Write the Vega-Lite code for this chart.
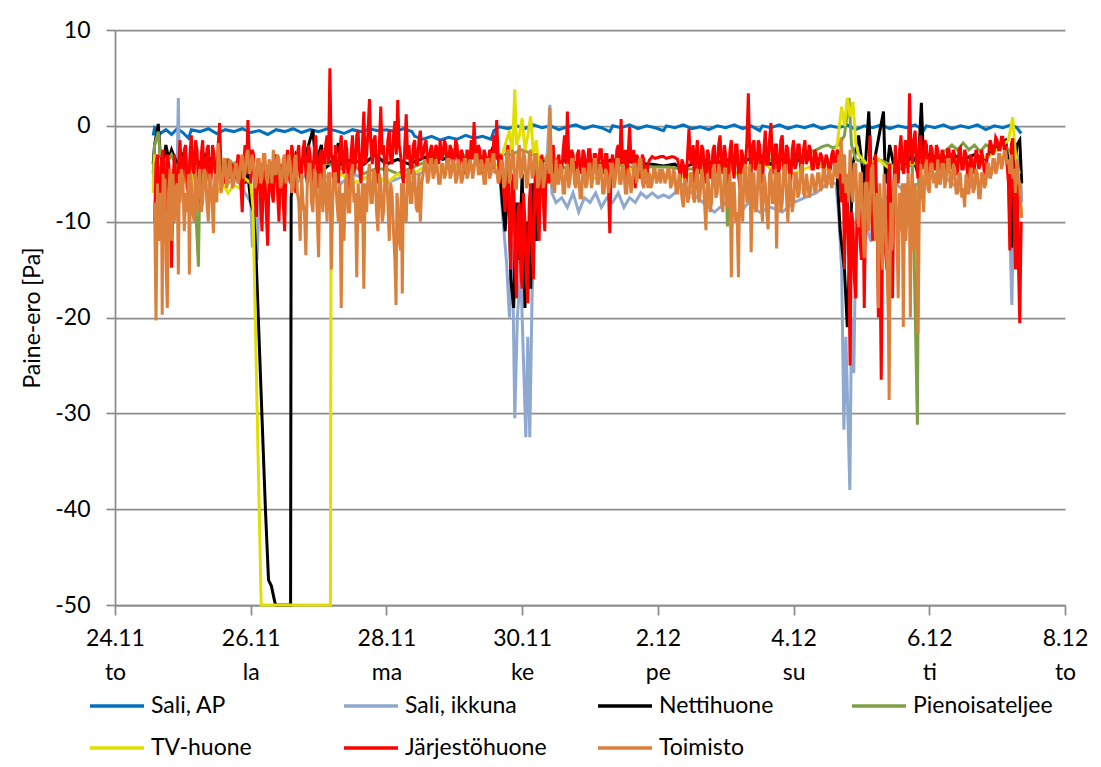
{
"$schema":"https://vega.github.io/schema/vega-lite/v6.json",
"width":950,"height":575,
"autosize":{"type":"none"},
"padding":{"left":115,"top":30,"right":36,"bottom":162},
"background":"white",
"config":{"view":{"stroke":null},"font":"Lato"},
"encoding":{
 "x":{"field":"h","type":"quantitative","scale":{"domain":[0,336],"nice":false,"zero":false},
  "axis":{"values":[0,48,96,144,192,240,288,336],"title":null,"grid":false,"domainColor":"#8c8c8c","domainWidth":1.75,"tickColor":"#8c8c8c","tickWidth":1.75,"tickSize":10,"labelFont":"Lato","labelFontSize":23,"labelColor":"#000000","labelPadding":12,"labelLineHeight":34,"labelOverlap":false,"labelFlush":false,
   "labelExpr":"[['24.11','26.11','28.11','30.11','2.12','4.12','6.12','8.12'][round(datum.value/48)], ['to','la','ma','ke','pe','su','ti','to'][round(datum.value/48)]]"}},
 "y":{"field":"v","type":"quantitative","scale":{"domain":[-50,10],"nice":false,"zero":false},
  "axis":{"values":[-50,-40,-30,-20,-10,0,10],"title":"Paine-ero [Pa]","titleFont":"Lato","titleFontSize":23,"titleFontWeight":"normal","titleColor":"#000000","titlePadding":10,"grid":true,"gridColor":"#8c8c8c","gridWidth":1.75,"domainColor":"#8c8c8c","domainWidth":1.75,"tickColor":"#8c8c8c","tickWidth":1.75,"tickSize":9,"labelFont":"Lato","labelFontSize":23,"labelColor":"#000000","labelPadding":16,
   "labelExpr":"replace(datum.label, '\u2212', '-')"}}
},
"layer":[
{"data":{"values":[
{"h":13.5,"v":-1.0},{"h":14,"v":-0.2},{"h":16,"v":-0.8},{"h":18,"v":-0.4},{"h":20,"v":-0.9},{"h":22,"v":-0.3},{"h":24,"v":-0.7},{"h":26,"v":-1.3},{"h":27,"v":-0.4},{"h":30,"v":-0.6},{"h":33,"v":-0.3},{"h":36,"v":-0.8},{"h":39,"v":-0.4},{"h":42,"v":-0.6},{"h":45,"v":-0.3},{"h":48,"v":-0.7},{"h":51,"v":-0.5},{"h":54,"v":-0.9},{"h":57,"v":-0.4},{"h":60,"v":-0.6},{"h":63,"v":-0.3},{"h":66,"v":-0.7},{"h":69,"v":-0.4},{"h":72,"v":-0.6},{"h":75,"v":-0.3},{"h":78,"v":-0.5},{"h":81,"v":-0.8},{"h":84,"v":-0.4},{"h":87,"v":-0.6},{"h":90,"v":-0.3},{"h":93,"v":-0.5},{"h":96,"v":-0.4},{"h":99,"v":-0.6},{"h":102,"v":-0.3},{"h":105,"v":-0.6},{"h":106,"v":-1.1},{"h":109,"v":-1.4},{"h":112,"v":-1.1},{"h":115,"v":-1.5},{"h":118,"v":-1.2},{"h":121,"v":-1.4},{"h":124,"v":-1.0},{"h":127,"v":-1.3},{"h":130,"v":-1.1},{"h":133,"v":-1.4},{"h":134,"v":-0.5},{"h":136,"v":-0.1},{"h":139,"v":-0.3},{"h":142,"v":0},{"h":145,"v":-0.3},{"h":148,"v":0.1},{"h":151,"v":-0.2},{"h":154,"v":0},{"h":157,"v":-0.4},{"h":160,"v":-0.1},{"h":163,"v":0.1},{"h":166,"v":-0.3},{"h":169,"v":0},{"h":172,"v":-0.2},{"h":175,"v":-0.6},{"h":176,"v":0},{"h":179,"v":-0.2},{"h":182,"v":0.1},{"h":185,"v":-0.3},{"h":188,"v":0},{"h":191,"v":-0.2},{"h":194,"v":-0.5},{"h":195,"v":0},{"h":198,"v":-0.2},{"h":201,"v":0.1},{"h":204,"v":-0.3},{"h":207,"v":-0.1},{"h":210,"v":-0.4},{"h":213,"v":0},{"h":216,"v":-0.2},{"h":219,"v":0.1},{"h":222,"v":-0.3},{"h":225,"v":0},{"h":228,"v":-0.5},{"h":229,"v":0},{"h":232,"v":-0.2},{"h":235,"v":0.1},{"h":238,"v":-0.3},{"h":241,"v":0},{"h":244,"v":-0.2},{"h":247,"v":0.1},{"h":250,"v":-0.3},{"h":253,"v":0},{"h":256,"v":-0.2},{"h":259,"v":0.1},{"h":262,"v":-0.4},{"h":265,"v":0},{"h":268,"v":-0.2},{"h":271,"v":0.1},{"h":274,"v":-0.3},{"h":277,"v":0},{"h":280,"v":-0.2},{"h":283,"v":0.1},{"h":286,"v":-0.5},{"h":287,"v":0},{"h":290,"v":-0.2},{"h":293,"v":0.1},{"h":296,"v":-0.3},{"h":299,"v":0},{"h":302,"v":-0.2},{"h":305,"v":0.1},{"h":308,"v":-0.4},{"h":311,"v":0},{"h":314,"v":-0.2},{"h":317,"v":0.1},{"h":319,"v":-0.2},{"h":320.5,"v":-0.8}
]},
"mark":{"type":"line","strokeWidth":3},
"encoding":{"color":{"datum":"Sali, AP","type":"nominal",
 "scale":{"domain":["Sali, AP","Sali, ikkuna","Nettihuone","Pienoisateljee","TV-huone","Järjestöhuone","Toimisto"],"range":["#0070C0","#8EA8D0","#000000","#7F9F45","#E2DF00","#FF0000","#DC7F3A"]},
 "legend":{"orient":"none","legendX":-27,"legendY":647,"direction":"horizontal","columns":4,"gridAlign":"all","symbolType":"stroke","symbolSize":2916,"symbolStrokeWidth":3.5,"labelFont":"Lato","labelFontSize":23,"labelColor":"#000000","labelOffset":5,"columnPadding":44,"rowPadding":1,"title":null,"labelLimit":400}}}},
{"data":{"values":[
{"h":13.5,"v":-6},{"h":14,"v":-3},{"h":16,"v":-5},{"h":18,"v":-4},{"h":20,"v":-6},{"h":22,"v":-4},{"h":22.4,"v":2.9},{"h":22.8,"v":-5},{"h":24,"v":-6},{"h":26,"v":-4.5},{"h":28,"v":-6},{"h":30,"v":-5},{"h":32,"v":-6},{"h":34,"v":-4},{"h":36,"v":-5},{"h":38,"v":-5.5},{"h":40,"v":-6},{"h":42,"v":-5.5},{"h":44,"v":-6},{"h":46,"v":-7},{"h":48,"v":-8},{"h":48.6,"v":-12.7},{"h":49.3,"v":-7},{"h":50.2,"v":-14},{"h":51,"v":-8},{"h":52,"v":-6},{"h":54,"v":-5},{"h":56,"v":-6},{"h":58,"v":-5},{"h":60,"v":-6},{"h":62,"v":-5},{"h":64,"v":-6},{"h":68,"v":-5},{"h":72,"v":-6},{"h":76,"v":-5},{"h":80,"v":-6},{"h":84,"v":-5},{"h":88,"v":-5.5},{"h":92,"v":-5},{"h":96,"v":-6},{"h":100,"v":-5.5},{"h":104,"v":-5},{"h":108,"v":-5},{"h":112,"v":-4},{"h":116,"v":-4.5},{"h":120,"v":-4},{"h":124,"v":-4.5},{"h":128,"v":-4},{"h":132,"v":-4.5},{"h":136,"v":-5},{"h":137,"v":-9},{"h":138.5,"v":-14.3},{"h":139.5,"v":-20},{"h":140.5,"v":-12},{"h":141.4,"v":-30.5},{"h":142.3,"v":-20},{"h":143.5,"v":-15},{"h":145.3,"v":-32.5},{"h":146,"v":-22},{"h":146.7,"v":-32.5},{"h":147.5,"v":-18},{"h":148.5,"v":-9},{"h":150,"v":-6},{"h":152,"v":-8},{"h":153.8,"v":2.2},{"h":154.5,"v":-7},{"h":156,"v":-8},{"h":158,"v":-7.5},{"h":160,"v":-8.5},{"h":162,"v":-7},{"h":164,"v":-9},{"h":166,"v":-7.5},{"h":168,"v":-8},{"h":170,"v":-7},{"h":172,"v":-8.5},{"h":174,"v":-7.5},{"h":176,"v":-8},{"h":178,"v":-7},{"h":180,"v":-8.5},{"h":182,"v":-7.5},{"h":184,"v":-8},{"h":186,"v":-7},{"h":188,"v":-7.5},{"h":190,"v":-7},{"h":192,"v":-7.5},{"h":194,"v":-7.2},{"h":196,"v":-7.5},{"h":198,"v":-7},{"h":200,"v":-6},{"h":204,"v":-7},{"h":208,"v":-8},{"h":212,"v":-9},{"h":216,"v":-8},{"h":220,"v":-9.5},{"h":224,"v":-8},{"h":228,"v":-9},{"h":232,"v":-8.5},{"h":236,"v":-9},{"h":240,"v":-8},{"h":244,"v":-7.5},{"h":248,"v":-7},{"h":252,"v":-6},{"h":255,"v":-6},{"h":256,"v":-9.5},{"h":257,"v":-15},{"h":257.8,"v":-31.7},{"h":258.5,"v":-22},{"h":259.9,"v":-38},{"h":260.5,"v":-20},{"h":261.3,"v":-25.8},{"h":262,"v":-12},{"h":264,"v":-9},{"h":267.4,"v":-12.1},{"h":268.5,"v":-7},{"h":272,"v":-8},{"h":276,"v":-6},{"h":280,"v":-7},{"h":284,"v":-6},{"h":288,"v":-5},{"h":292,"v":-5},{"h":296,"v":-6},{"h":300,"v":-7},{"h":304,"v":-6},{"h":308,"v":-5.5},{"h":312,"v":-4},{"h":315,"v":-3},{"h":316,"v":-5},{"h":317.2,"v":-18.7},{"h":318,"v":-6},{"h":319,"v":-4},{"h":320,"v":-3},{"h":320.7,"v":-8}
]},
"mark":{"type":"line","strokeWidth":3},
"encoding":{"color":{"datum":"Sali, ikkuna","type":"nominal"}}},
{"data":{"values":[
{"h":13.5,"v":-4},{"h":14,"v":-2},{"h":15.3,"v":0.2},{"h":16,"v":-3},{"h":17,"v":-4},{"h":18,"v":-2},{"h":19,"v":-3.5},{"h":20,"v":-2.5},{"h":22,"v":-4},{"h":24,"v":-3},{"h":26,"v":-4.5},{"h":28,"v":-3},{"h":30,"v":-4},{"h":32,"v":-3},{"h":34,"v":-3.5},{"h":36,"v":-4},{"h":38,"v":-5},{"h":40,"v":-5.4},{"h":42,"v":-5.4},{"h":44,"v":-5.4},{"h":45,"v":-4.5},{"h":46,"v":-6},{"h":47,"v":-5},{"h":48,"v":-8},{"h":49,"v":-9},{"h":49.8,"v":-13},{"h":53.2,"v":-40},{"h":54.3,"v":-47.4},{"h":55.3,"v":-48},{"h":56.6,"v":-49.8},{"h":57,"v":-50},{"h":62.1,"v":-50},{"h":62.3,"v":-7.5},{"h":63,"v":-5},{"h":64,"v":-3},{"h":66,"v":-4},{"h":68,"v":-2.5},{"h":70,"v":-0.4},{"h":71,"v":-4},{"h":73,"v":-2},{"h":74,"v":-4.5},{"h":76,"v":-4},{"h":78,"v":-3},{"h":79,"v":-1.8},{"h":80,"v":-4},{"h":84,"v":-3.5},{"h":88,"v":-4},{"h":92,"v":-3},{"h":96,"v":-4},{"h":100,"v":-3.5},{"h":104,"v":-4},{"h":108,"v":-3.5},{"h":112,"v":-3},{"h":116,"v":-3.5},{"h":120,"v":-3},{"h":124,"v":-3.5},{"h":128,"v":-3},{"h":132,"v":-3.5},{"h":134,"v":-2},{"h":136,"v":-4},{"h":137,"v":-8},{"h":138,"v":-11},{"h":139,"v":-4},{"h":140,"v":-16},{"h":141,"v":-19},{"h":142,"v":-8},{"h":143,"v":-14},{"h":144,"v":-5},{"h":145,"v":-19},{"h":146,"v":-10},{"h":147,"v":-17},{"h":148,"v":-6},{"h":149,"v":-12},{"h":150,"v":-4},{"h":152,"v":-3.5},{"h":156,"v":-4},{"h":160,"v":-3.5},{"h":164,"v":-4},{"h":168,"v":-3.5},{"h":172,"v":-4},{"h":176,"v":-3.5},{"h":180,"v":-4},{"h":184,"v":-3.5},{"h":188,"v":-4},{"h":190,"v":-4},{"h":194,"v":-4.2},{"h":198,"v":-4},{"h":200,"v":-4.5},{"h":204,"v":-4},{"h":208,"v":-3.5},{"h":212,"v":-4},{"h":216,"v":-3.5},{"h":220,"v":-4},{"h":224,"v":-3.5},{"h":228,"v":-3},{"h":232,"v":-4},{"h":236,"v":-3.5},{"h":240,"v":-4},{"h":244,"v":-3},{"h":248,"v":-4},{"h":252,"v":-4.5},{"h":255,"v":-3},{"h":256.5,"v":-11},{"h":258,"v":-15},{"h":259,"v":-21},{"h":260,"v":-12},{"h":261,"v":-4},{"h":263,"v":-1},{"h":265,"v":-6},{"h":266.6,"v":1.5},{"h":267.5,"v":-5},{"h":269,"v":-3},{"h":271.8,"v":1.5},{"h":272.5,"v":-6},{"h":274,"v":-2},{"h":276,"v":-5},{"h":278,"v":-3},{"h":280,"v":-4},{"h":282,"v":-3},{"h":284,"v":-5},{"h":285.2,"v":2.4},{"h":286,"v":-4},{"h":288,"v":-3},{"h":292,"v":-3.5},{"h":296,"v":-3},{"h":300,"v":-3.5},{"h":304,"v":-3},{"h":308,"v":-3.5},{"h":312,"v":-2},{"h":315,"v":-1.5},{"h":316,"v":-4},{"h":317.2,"v":-12.7},{"h":318,"v":-5},{"h":319,"v":-2},{"h":320,"v":-1.5},{"h":320.7,"v":-6}
]},
"mark":{"type":"line","strokeWidth":3},
"encoding":{"color":{"datum":"Nettihuone","type":"nominal"}}},
{"data":{"values":[
{"h":13.5,"v":-5},{"h":14,"v":-2},{"h":15.3,"v":-0.6},{"h":16,"v":-3},{"h":18,"v":-4},{"h":20,"v":-3},{"h":22,"v":-4.5},{"h":24,"v":-3.5},{"h":26,"v":-4},{"h":28,"v":-5},{"h":29.5,"v":-14.7},{"h":30,"v":-5},{"h":32,"v":-4},{"h":34,"v":-4.5},{"h":36,"v":-3.5},{"h":38,"v":-4},{"h":40,"v":-3.5},{"h":42,"v":-4},{"h":44,"v":-3.5},{"h":46,"v":-4},{"h":48,"v":-4.5},{"h":50,"v":-5},{"h":52,"v":-4},{"h":56,"v":-4.5},{"h":60,"v":-4},{"h":64,"v":-3.5},{"h":68,"v":-4},{"h":72,"v":-3.5},{"h":76,"v":-4},{"h":80,"v":-4.5},{"h":84,"v":-4},{"h":88,"v":-5},{"h":92,"v":-4.5},{"h":96,"v":-4.5},{"h":100,"v":-5},{"h":104,"v":-4.5},{"h":108,"v":-4},{"h":112,"v":-3.5},{"h":116,"v":-3},{"h":120,"v":-2.5},{"h":124,"v":-3.2},{"h":128,"v":-3},{"h":132,"v":-3.5},{"h":136,"v":-3},{"h":140,"v":-3},{"h":144,"v":-2.5},{"h":148,"v":-3},{"h":152,"v":-3.5},{"h":156,"v":-4},{"h":160,"v":-4.5},{"h":164,"v":-4},{"h":168,"v":-4.5},{"h":172,"v":-4},{"h":176,"v":-4.5},{"h":180,"v":-4},{"h":184,"v":-4.5},{"h":188,"v":-4.3},{"h":192,"v":-4.3},{"h":196,"v":-4.3},{"h":200,"v":-4.5},{"h":204,"v":-4.5},{"h":208,"v":-4},{"h":212,"v":-4.5},{"h":216,"v":-4},{"h":216.6,"v":-10.5},{"h":217.2,"v":-4.5},{"h":220,"v":-4},{"h":224,"v":-4.5},{"h":228,"v":-4},{"h":232,"v":-3.5},{"h":236,"v":-4},{"h":240,"v":-3.5},{"h":244,"v":-3},{"h":248,"v":-2.5},{"h":250,"v":-2.2},{"h":252,"v":-2},{"h":254,"v":-2.3},{"h":256,"v":-2},{"h":258,"v":-1},{"h":259.6,"v":2.9},{"h":260.5,"v":-2},{"h":262,"v":-3.5},{"h":266,"v":-4},{"h":270,"v":-3.5},{"h":274,"v":-4},{"h":278,"v":-4.5},{"h":282,"v":-4},{"h":283.8,"v":-31.2},{"h":284.3,"v":-4},{"h":288,"v":-4},{"h":292,"v":-3},{"h":294,"v":-2.5},{"h":296,"v":-2},{"h":298,"v":-2.5},{"h":300,"v":-1.8},{"h":302,"v":-2.5},{"h":304,"v":-2},{"h":306,"v":-2.7},{"h":308,"v":-2},{"h":310,"v":-2.3},{"h":312,"v":-2},{"h":314,"v":-1.8},{"h":316,"v":-2.5},{"h":318,"v":-3},{"h":320,"v":-5}
]},
"mark":{"type":"line","strokeWidth":3},
"encoding":{"color":{"datum":"Pienoisateljee","type":"nominal"}}},
{"data":{"values":[
{"h":13.5,"v":-7},{"h":14,"v":-3},{"h":16,"v":-6},{"h":18,"v":-4.5},{"h":20,"v":-7},{"h":22,"v":-5},{"h":24,"v":-6},{"h":26,"v":-4},{"h":28,"v":-6.5},{"h":30,"v":-5},{"h":32,"v":-6},{"h":34,"v":-6.5},{"h":36,"v":-7},{"h":38,"v":-6},{"h":40,"v":-7},{"h":42,"v":-6.2},{"h":44,"v":-6.5},{"h":46,"v":-5.5},{"h":48,"v":-6},{"h":48.8,"v":-8.5},{"h":51.7,"v":-50},{"h":76.2,"v":-50},{"h":76.4,"v":-12},{"h":77,"v":-6},{"h":80,"v":-5},{"h":84,"v":-6},{"h":88,"v":-5.5},{"h":92,"v":-5},{"h":96,"v":-6},{"h":100,"v":-5},{"h":104,"v":-5.5},{"h":108,"v":-4.5},{"h":112,"v":-4},{"h":116,"v":-4.5},{"h":120,"v":-4},{"h":124,"v":-5},{"h":128,"v":-4},{"h":132,"v":-4.5},{"h":136,"v":-4},{"h":138,"v":-2},{"h":139.5,"v":-0.5},{"h":140.5,"v":-3},{"h":141.4,"v":3.8},{"h":142,"v":-2},{"h":143,"v":-1},{"h":144,"v":0.8},{"h":145,"v":-2.5},{"h":146,"v":-1},{"h":147,"v":1},{"h":148,"v":-3},{"h":149,"v":-1.5},{"h":150,"v":-5},{"h":154,"v":-5},{"h":158,"v":-5.5},{"h":162,"v":-4.5},{"h":166,"v":-5},{"h":170,"v":-5.5},{"h":174,"v":-4.5},{"h":178,"v":-5},{"h":182,"v":-4.5},{"h":186,"v":-5},{"h":188,"v":-4.5},{"h":190,"v":-5.5},{"h":194,"v":-5},{"h":198,"v":-6},{"h":200,"v":-5.5},{"h":204,"v":-5},{"h":208,"v":-4.5},{"h":212,"v":-5},{"h":216,"v":-4},{"h":220,"v":-5},{"h":224,"v":-4.5},{"h":228,"v":-3.5},{"h":232,"v":-4.5},{"h":236,"v":-4},{"h":240,"v":-5},{"h":244,"v":-4.5},{"h":248,"v":-4},{"h":252,"v":-4.5},{"h":255,"v":-3},{"h":256,"v":-0.5},{"h":257,"v":2},{"h":258,"v":0},{"h":259,"v":2.9},{"h":260,"v":1},{"h":261,"v":2.5},{"h":262,"v":-1.8},{"h":263,"v":-3},{"h":266,"v":-4},{"h":270,"v":-3.5},{"h":274,"v":-4.5},{"h":278,"v":-3.5},{"h":282,"v":-4},{"h":286,"v":-3.5},{"h":290,"v":-4},{"h":294,"v":-4.5},{"h":298,"v":-3.5},{"h":302,"v":-4},{"h":306,"v":-3.5},{"h":310,"v":-3},{"h":314,"v":-2},{"h":316,"v":-1.5},{"h":317.5,"v":0.9},{"h":318.5,"v":-3},{"h":319.5,"v":-5},{"h":320.5,"v":-9}
]},
"mark":{"type":"line","strokeWidth":3},
"encoding":{"color":{"datum":"TV-huone","type":"nominal"}}},
{"data":{"values":[
{"h":14,"v":-10},{"h":14.5,"v":-4},{"h":15,"v":-3},{"h":15.5,"v":-8},{"h":16,"v":-7.5},{"h":16.5,"v":-3.5},{"h":17,"v":-2.5},{"h":17.5,"v":-6},{"h":18,"v":-9},{"h":18.5,"v":-3},{"h":19,"v":-4},{"h":19.5,"v":-7},{"h":20,"v":-14.8},{"h":20.5,"v":-6},{"h":21,"v":-3},{"h":21.5,"v":-5.5},{"h":22,"v":-8},{"h":22.5,"v":-4},{"h":23,"v":-1.5},{"h":23.5,"v":-5},{"h":24,"v":-6},{"h":24.5,"v":-2.5},{"h":25,"v":-2},{"h":25.5,"v":-6.5},{"h":26,"v":-7},{"h":26.5,"v":-3},{"h":27,"v":-1},{"h":27.5,"v":-4.5},{"h":28,"v":-5},{"h":28.5,"v":-1.5},{"h":29,"v":-2.5},{"h":29.5,"v":-6},{"h":30,"v":-8},{"h":30.5,"v":-3},{"h":31,"v":-1.5},{"h":31.5,"v":-5},{"h":32,"v":-6},{"h":32.5,"v":-2.5},{"h":33,"v":-2},{"h":33.5,"v":-6.5},{"h":34,"v":-5.5},{"h":34.5,"v":-2},{"h":35,"v":-3},{"h":35.5,"v":-5},{"h":36,"v":-6},{"h":36.5,"v":-2},{"h":37,"v":0.3},{"h":37.5,"v":-4.5},{"h":38,"v":-4},{"h":38.5,"v":-6},{"h":39,"v":-5.5},{"h":39.5,"v":-3.5},{"h":40,"v":-4},{"h":40.5,"v":-5.5},{"h":41,"v":-5},{"h":41.5,"v":-4},{"h":42,"v":-4.5},{"h":42.5,"v":-5.5},{"h":43,"v":-5},{"h":43.5,"v":-3},{"h":44,"v":-3.5},{"h":44.5,"v":-6},{"h":45,"v":-9},{"h":45.5,"v":-4},{"h":46,"v":-2},{"h":46.5,"v":-5},{"h":47,"v":0.6},{"h":47.5,"v":-3},{"h":48,"v":-6},{"h":48.5,"v":-2.5},
{"h":49,"v":-3},{"h":49.5,"v":-7},{"h":50,"v":-9.5},{"h":50.5,"v":-3.5},{"h":51,"v":-4},{"h":51.5,"v":-8},{"h":52,"v":-11},{"h":52.5,"v":-4.5},{"h":53,"v":-5},{"h":53.5,"v":-9},{"h":54,"v":-12.5},{"h":54.5,"v":-5},{"h":55,"v":-4},{"h":55.5,"v":-7},{"h":56,"v":-8},{"h":56.5,"v":-3.5},{"h":57,"v":-3},{"h":57.5,"v":-7},{"h":58,"v":-10},{"h":58.5,"v":-4.5},{"h":59,"v":-4},{"h":59.5,"v":-8},{"h":60,"v":-11},{"h":60.5,"v":-4},{"h":61,"v":-2.5},{"h":61.5,"v":-5},{"h":62,"v":-6},{"h":62.5,"v":-2},{"h":63,"v":-3},{"h":63.5,"v":-6},{"h":64,"v":-7},{"h":64.5,"v":-3},{"h":65,"v":-2},{"h":65.5,"v":-5.5},{"h":66,"v":-5},{"h":66.5,"v":-2.5},{"h":67,"v":-1.5},{"h":67.5,"v":-5},{"h":68,"v":-6},{"h":68.5,"v":-2},{"h":69,"v":-3},{"h":69.5,"v":-6},{"h":70,"v":-5},{"h":70.5,"v":-2.5},{"h":71,"v":-1},{"h":71.5,"v":-4.5},{"h":72,"v":-6.5},{"h":72.5,"v":-3},{"h":73,"v":-2.5},{"h":73.5,"v":-6},{"h":74,"v":-5},{"h":74.5,"v":-2},{"h":75,"v":-1},{"h":75.5,"v":-4},{"h":76,"v":6},{"h":76.5,"v":-3},{"h":77,"v":-4},{"h":77.5,"v":-6},
{"h":78,"v":-2},{"h":78.5,"v":-5},{"h":79,"v":-6},{"h":79.5,"v":-2.5},{"h":80,"v":-1},{"h":80.5,"v":-4},{"h":81,"v":-5},{"h":81.5,"v":-1.5},{"h":82,"v":-2.5},{"h":82.5,"v":-6},{"h":83,"v":-7},{"h":83.5,"v":-3},{"h":84,"v":-1},{"h":84.5,"v":-5},{"h":85,"v":-4},{"h":85.5,"v":-1},{"h":86,"v":-0.5},{"h":86.5,"v":-4.5},{"h":87,"v":-6},{"h":87.5,"v":-2},{"h":88,"v":1.5},{"h":88.5,"v":-4},{"h":89,"v":-3},{"h":89.5,"v":-0.5},{"h":90,"v":2.8},{"h":90.5,"v":-2},{"h":91,"v":-4},{"h":91.5,"v":-1.5},{"h":92,"v":-1},{"h":92.5,"v":-4.5},{"h":93,"v":-6},{"h":93.5,"v":-2},{"h":94,"v":2},{"h":94.5,"v":-3},{"h":95,"v":-2},{"h":95.5,"v":-5.5},{"h":96,"v":-5},{"h":96.5,"v":-1.5},{"h":97,"v":-0.5},{"h":97.5,"v":-3.5},{"h":98,"v":-4},{"h":98.5,"v":-1},{"h":99,"v":0.5},{"h":99.5,"v":-3},{"h":100,"v":2.7},{"h":100.5,"v":-2},{"h":101,"v":-3},{"h":101.5,"v":-5},{"h":102,"v":-6},{"h":102.5,"v":-2},{"h":103,"v":1.2},{"h":103.5,"v":-3.5},{"h":104,"v":-2},{"h":104.5,"v":-4.5},{"h":105,"v":-5},{"h":105.5,"v":-2},{"h":106,"v":-1.5},{"h":106.5,"v":-4},{"h":107,"v":-4},{"h":107.5,"v":-1.5},{"h":108,"v":-0.5},{"h":108.5,"v":-3.5},
{"h":109,"v":-3},{"h":109.5,"v":-2},{"h":110,"v":-1.5},{"h":110.5,"v":-3.5},{"h":111,"v":-4},{"h":111.5,"v":-2.5},{"h":112,"v":-2},{"h":112.5,"v":-4},{"h":113,"v":-3.5},{"h":113.5,"v":-2},{"h":114,"v":-2.5},{"h":114.5,"v":-4},{"h":115,"v":-1.5},{"h":115.5,"v":-3.5},{"h":116,"v":-3},{"h":116.5,"v":-1.5},{"h":117,"v":-2},{"h":117.5,"v":-4.5},{"h":118,"v":-4},{"h":118.5,"v":-2},{"h":119,"v":-2.5},{"h":119.5,"v":-4},{"h":120,"v":-3.5},{"h":120.5,"v":-1.5},{"h":121,"v":-2},{"h":121.5,"v":-4.5},{"h":122,"v":-4},{"h":122.5,"v":-2.5},{"h":123,"v":-3},{"h":123.5,"v":-4.5},{"h":124,"v":-5},{"h":124.5,"v":-2.5},{"h":125,"v":-3},{"h":125.5,"v":-4},{"h":126,"v":-1.5},{"h":126.5,"v":-3.5},{"h":127,"v":0.4},{"h":127.5,"v":-3},{"h":128,"v":-4},{"h":128.5,"v":-2},{"h":129,"v":-2.5},{"h":129.5,"v":-4.5},{"h":130,"v":-5},{"h":130.5,"v":-2.5},{"h":131,"v":-3},{"h":131.5,"v":-4.5},{"h":132,"v":-4.5},{"h":132.5,"v":-2.5},{"h":133,"v":-3},{"h":133.5,"v":-4.5},{"h":134,"v":-1},{"h":134.5,"v":-3.5},{"h":135,"v":0.6},{"h":135.5,"v":-3},{"h":136,"v":-6},{"h":136.5,"v":-3},
{"h":137,"v":-4},{"h":137.5,"v":-7},{"h":138,"v":-9},{"h":138.5,"v":-3},{"h":139,"v":-2},{"h":139.5,"v":-10},{"h":140,"v":-15},{"h":140.5,"v":-6},{"h":141,"v":-5},{"h":141.5,"v":-14},{"h":142,"v":-18},{"h":142.5,"v":-9},{"h":143,"v":-8},{"h":143.5,"v":-15},{"h":144,"v":-17},{"h":144.5,"v":-7},{"h":145,"v":-10},{"h":145.5,"v":-16},{"h":146,"v":-18.5},{"h":146.5,"v":-8},{"h":147,"v":-6},{"h":147.5,"v":-13},{"h":148,"v":-16},{"h":148.5,"v":-6},{"h":149,"v":-4},{"h":149.5,"v":-9},{"h":150,"v":-12},{"h":150.5,"v":-5},{"h":151,"v":-3},{"h":151.5,"v":-8},{"h":152,"v":-11},{"h":152.5,"v":-4},{"h":153,"v":-4},{"h":153.5,"v":-6},
{"h":154,"v":-5},{"h":154.5,"v":-3},{"h":155,"v":-2},{"h":155.5,"v":-5},{"h":156,"v":-6},{"h":156.5,"v":-3.5},{"h":157,"v":-3},{"h":157.5,"v":-5.5},{"h":158,"v":-5},{"h":158.5,"v":-2.5},{"h":159,"v":-1},{"h":159.5,"v":-4},{"h":160,"v":1.5},{"h":160.5,"v":-3.5},{"h":161,"v":-5},{"h":161.5,"v":-2.5},{"h":162,"v":-3},{"h":162.5,"v":-5},{"h":163,"v":-6},{"h":163.5,"v":-3},{"h":164,"v":-2.5},{"h":164.5,"v":-4.5},{"h":165,"v":-5},{"h":165.5,"v":-2.5},{"h":166,"v":-3},{"h":166.5,"v":-5},{"h":167,"v":-4.5},{"h":167.5,"v":-2.5},{"h":168,"v":-2.5},{"h":168.5,"v":-4.5},{"h":169,"v":-5},{"h":169.5,"v":-3},{"h":170,"v":-3},{"h":170.5,"v":-5},{"h":171,"v":-4},{"h":171.5,"v":-2.5},{"h":172,"v":-2.5},{"h":172.5,"v":-4.5},{"h":173,"v":-5},{"h":173.5,"v":-3},{"h":174,"v":-3},{"h":174.5,"v":-6},{"h":175,"v":-11.2},{"h":175.5,"v":-4},{"h":176,"v":-3},{"h":176.5,"v":-5},{"h":177,"v":-5},{"h":177.5,"v":-2.5},{"h":178,"v":-2},{"h":178.5,"v":-4},{"h":179,"v":0.7},{"h":179.5,"v":-3.5},{"h":180,"v":-4},{"h":180.5,"v":-2.5},{"h":181,"v":-5.5},{"h":181.5,"v":-3},{"h":182,"v":-0.1},{"h":182.5,"v":-3.5},{"h":183,"v":-4},{"h":183.5,"v":-2.5},{"h":184,"v":-6.5},{"h":184.5,"v":-3},{"h":185,"v":-3.5},{"h":185.5,"v":-5},{"h":186,"v":-5.5},{"h":186.5,"v":-3},{"h":187,"v":-3.5},{"h":187.5,"v":-5},{"h":188,"v":-6},{"h":188.5,"v":-4},
{"h":189,"v":-3.6},{"h":190,"v":-3.2},{"h":191,"v":-3.4},{"h":192,"v":-3.3},{"h":193,"v":-3.2},{"h":194,"v":-3.2},{"h":195,"v":-3.4},{"h":196,"v":-3.3},{"h":197,"v":-3.2},{"h":198,"v":-3.3},{"h":199,"v":-3.5},{"h":199.5,"v":-4.5},{"h":200,"v":-5.5},{"h":200.5,"v":-3.5},{"h":201,"v":-4},{"h":201.5,"v":-5.5},{"h":202,"v":-6},{"h":202.5,"v":-3},
{"h":203,"v":-0.3},{"h":203.5,"v":-3.5},{"h":204,"v":-4},{"h":204.5,"v":-2},{"h":205,"v":-6},{"h":205.5,"v":-3},{"h":206,"v":-1.5},{"h":206.5,"v":-4.5},{"h":207,"v":-5},{"h":207.5,"v":-2},{"h":208,"v":-2.5},{"h":208.5,"v":-5},{"h":209,"v":-6},{"h":209.5,"v":-2.5},{"h":210,"v":-3},{"h":210.5,"v":-5.5},{"h":211,"v":-5},{"h":211.5,"v":-2.5},{"h":212,"v":-2},{"h":212.5,"v":-5},{"h":213,"v":-4.5},{"h":213.5,"v":-2},{"h":214,"v":-1},{"h":214.5,"v":-4},{"h":215,"v":-5},{"h":215.5,"v":-2},{"h":216,"v":-3},{"h":216.5,"v":-5.5},{"h":217,"v":-6},{"h":217.5,"v":-2.5},{"h":218,"v":-1.5},{"h":218.5,"v":-4.5},{"h":219,"v":-5.5},{"h":219.5,"v":-2},{"h":220,"v":-2},{"h":220.5,"v":-5},{"h":221,"v":-6.5},{"h":221.5,"v":-2.5},{"h":222,"v":-3},{"h":222.5,"v":-5},{"h":223,"v":-4},{"h":223.5,"v":-1.5},{"h":224,"v":3.4},{"h":224.5,"v":-3},{"h":225,"v":-5},{"h":225.5,"v":-2},{"h":226,"v":-1.5},{"h":226.5,"v":-4.5},{"h":227,"v":-4.5},{"h":227.5,"v":-1.5},{"h":228,"v":-2},{"h":228.5,"v":-5},{"h":229,"v":-6},{"h":229.5,"v":-2.5},{"h":230,"v":-0.5},{"h":230.5,"v":-4},{"h":231,"v":-4},{"h":231.5,"v":-1.5},{"h":232,"v":0.3},{"h":232.5,"v":-3.5},{"h":233,"v":-5},{"h":233.5,"v":-2},{"h":234,"v":-2},{"h":234.5,"v":-5},{"h":235,"v":-4.5},{"h":235.5,"v":-1.5},{"h":236,"v":-1},{"h":236.5,"v":-4.5},{"h":237,"v":-5},{"h":237.5,"v":-2},{"h":238,"v":-2.5},{"h":238.5,"v":-5},{"h":239,"v":-6},{"h":239.5,"v":-2.5},{"h":240,"v":-1.5},{"h":240.5,"v":-4.5},{"h":241,"v":-4},{"h":241.5,"v":-2},{"h":242,"v":-2},{"h":242.5,"v":-4.5},{"h":243,"v":-5},{"h":243.5,"v":-2.5},{"h":244,"v":-1.5},{"h":244.5,"v":-4},{"h":245,"v":-3.5},{"h":245.5,"v":-2},{"h":246,"v":-2.5},{"h":246.5,"v":-4.5},{"h":247,"v":-4.5},{"h":247.5,"v":-2.5},{"h":248,"v":-3},{"h":248.5,"v":-4.5},{"h":249,"v":-3.8},{"h":249.5,"v":-2.8},{"h":250,"v":-3.2},{"h":250.5,"v":-4.5},{"h":251,"v":-4.2},{"h":251.5,"v":-3},{"h":252,"v":-3.5},{"h":252.5,"v":-4.5},{"h":253,"v":-4.5},{"h":253.5,"v":-3},{"h":254,"v":-2.5},{"h":254.5,"v":-4.5},{"h":255,"v":-4},{"h":255.5,"v":-2.5},
{"h":256,"v":-3},{"h":256.5,"v":-6},{"h":257,"v":-8},{"h":257.5,"v":-3},{"h":258,"v":-15},{"h":258.5,"v":-7},{"h":259,"v":-6},{"h":259.5,"v":-14},{"h":260,"v":-25},{"h":260.5,"v":-9},{"h":261,"v":-10},{"h":261.5,"v":-16},{"h":262,"v":-18},{"h":262.5,"v":-7},{"h":263,"v":-8},{"h":263.5,"v":-12},{"h":264,"v":-14},{"h":264.5,"v":-6},{"h":265,"v":-19},{"h":265.5,"v":-8},{"h":266,"v":-4},{"h":266.5,"v":-7},{"h":267,"v":-1},{"h":267.5,"v":-6},{"h":268,"v":-12},{"h":268.5,"v":-5},{"h":269,"v":-3},{"h":269.5,"v":-9},{"h":270,"v":-20},{"h":270.5,"v":-12},{"h":271,"v":-26.5},{"h":271.5,"v":-10},{"h":272,"v":-8},{"h":272.5,"v":-13},{"h":273,"v":-15},{"h":273.5,"v":-5},{"h":274,"v":-4},{"h":274.5,"v":-10},{"h":275,"v":-18},{"h":275.5,"v":-6},
{"h":276,"v":-2},{"h":276.5,"v":-5},{"h":277,"v":-6},{"h":277.5,"v":-2.5},{"h":278,"v":-1},{"h":278.5,"v":-4.5},{"h":279,"v":-5},{"h":279.5,"v":-1.5},{"h":280,"v":-2},{"h":280.5,"v":-5},{"h":281,"v":3.4},{"h":281.5,"v":-2},{"h":282,"v":-4},{"h":282.5,"v":-1.5},{"h":283,"v":-0.5},{"h":283.5,"v":-4},{"h":284,"v":-5.5},{"h":284.5,"v":-2},{"h":285,"v":-1},{"h":285.5,"v":-4.5},{"h":286,"v":-4},{"h":286.5,"v":-1.5},{"h":287,"v":-2},{"h":287.5,"v":-4.5},{"h":288,"v":-5},{"h":288.5,"v":-2},{"h":289,"v":-2.5},{"h":289.5,"v":-4.5},{"h":290,"v":-4.5},{"h":290.5,"v":-2},
{"h":291,"v":-2.5},{"h":291.5,"v":-4.5},{"h":292,"v":-4.5},{"h":292.5,"v":-2.5},{"h":293,"v":-3},{"h":293.5,"v":-5},{"h":294,"v":-5},{"h":294.5,"v":-2.5},{"h":295,"v":-2.5},{"h":295.5,"v":-4.5},{"h":296,"v":-4},{"h":296.5,"v":-2.5},{"h":297,"v":-3},{"h":297.5,"v":-5},{"h":298,"v":-5},{"h":298.5,"v":-2.5},{"h":299,"v":-2.3},{"h":299.5,"v":-4.5},{"h":300,"v":-4.5},{"h":300.5,"v":-2.5},{"h":301,"v":-3},{"h":301.5,"v":-5},{"h":302,"v":-5.3},{"h":302.5,"v":-3},{"h":303,"v":-3.5},{"h":303.5,"v":-5},{"h":304,"v":-4.5},{"h":304.5,"v":-2.5},{"h":305,"v":-3},{"h":305.5,"v":-4.5},{"h":306,"v":-4},{"h":306.5,"v":-2.5},{"h":307,"v":-3.5},{"h":307.5,"v":-5},{"h":308,"v":-5},{"h":308.5,"v":-3},{"h":309,"v":-3},{"h":309.5,"v":-1.5},{"h":310,"v":-2},{"h":310.5,"v":-3},{"h":311,"v":-2.5},{"h":311.5,"v":-1.2},{"h":312,"v":-1.5},{"h":312.5,"v":-2.5},{"h":313,"v":-2.5},{"h":313.5,"v":-1.2},{"h":314,"v":-1.2},{"h":314.5,"v":-2.5},{"h":315,"v":-2},{"h":315.5,"v":-4},
{"h":316,"v":-6},{"h":316.5,"v":-13},{"h":317,"v":-2},{"h":317.5,"v":-1.3},{"h":318,"v":-9},{"h":318.5,"v":-15},{"h":319,"v":-4},{"h":319.5,"v":-14},{"h":320,"v":-20.6},{"h":320.5,"v":-10}
]},
"mark":{"type":"line","strokeWidth":3},
"encoding":{"color":{"datum":"Järjestöhuone","type":"nominal"}}},
{"data":{"values":[
{"h":14,"v":-8},{"h":14.5,"v":-20.3},{"h":15,"v":-6},{"h":15.5,"v":-12},{"h":16,"v":-7},{"h":16.5,"v":-10},{"h":16.7,"v":-19.7},{"h":17,"v":-5},{"h":17.3,"v":-8},{"h":17.7,"v":-5.5},{"h":18,"v":-14},{"h":18.5,"v":-19},{"h":19,"v":-7},{"h":19.5,"v":-4.5},{"h":20,"v":-12},{"h":20.5,"v":-5},{"h":21,"v":-10},{"h":21.5,"v":-6.5},{"h":22,"v":-6},{"h":22.4,"v":-15.5},{"h":22.8,"v":-5},{"h":23,"v":-8},{"h":23.5,"v":-4.5},{"h":24,"v":-5.5},{"h":24.5,"v":-11},{"h":25,"v":-7},{"h":25.5,"v":-9},{"h":26,"v":-5},{"h":26.3,"v":-15.5},{"h":26.7,"v":-5},{"h":27,"v":-6},{"h":27.5,"v":-9},{"h":28,"v":-10},{"h":28.5,"v":-5},{"h":29,"v":-9},{"h":29.5,"v":-6},{"h":30,"v":-4.5},{"h":30.5,"v":-9},{"h":31,"v":-8},{"h":31.5,"v":-4.5},{"h":32,"v":-5},{"h":32.5,"v":-8},{"h":33,"v":-10},{"h":33.5,"v":-5},{"h":34,"v":-6},{"h":34.5,"v":-9},{"h":34.8,"v":-11.2},{"h":35.2,"v":-6},{"h":35.5,"v":-5},{"h":36,"v":-8},{"h":36.5,"v":-1.8},{"h":37,"v":-4},{"h":37.5,"v":-7},{"h":38,"v":-6},{"h":38.5,"v":-3.5},{"h":39,"v":-3.5},{"h":39.5,"v":-6.5},{"h":40,"v":-5.5},{"h":40.5,"v":-3.5},{"h":41,"v":-4.5},{"h":41.5,"v":-6.5},{"h":42,"v":-6},{"h":42.5,"v":-4},{"h":43,"v":-4},{"h":43.5,"v":-6},{"h":44,"v":-5.5},{"h":44.5,"v":-3.5},{"h":45,"v":-3},{"h":45.5,"v":-5.5},{"h":46,"v":-5},{"h":46.5,"v":-3},{"h":47,"v":-2.5},{"h":47.5,"v":-5},{"h":48,"v":-4.5},{"h":48.5,"v":-3},
{"h":49,"v":-4},{"h":49.5,"v":-6.5},{"h":50,"v":-6},{"h":50.5,"v":-3.5},{"h":51,"v":-3.5},{"h":51.5,"v":-6},{"h":52,"v":-5.5},{"h":52.5,"v":-3},{"h":53,"v":-3},{"h":53.5,"v":-5.5},{"h":54,"v":-6},{"h":54.5,"v":-3.5},{"h":55,"v":-4},{"h":55.5,"v":-6},{"h":56,"v":-2.5},{"h":56.5,"v":-5},{"h":57,"v":-5},{"h":57.5,"v":-3},{"h":58,"v":-3.5},{"h":58.5,"v":-6.5},{"h":59,"v":-6},{"h":59.5,"v":-3.5},{"h":60,"v":-3},{"h":60.5,"v":-6},{"h":61,"v":-5},{"h":61.5,"v":-3},{"h":62,"v":-4},{"h":62.5,"v":-7},{"h":63,"v":-6.5},{"h":63.5,"v":-3.5},{"h":64,"v":-3},{"h":64.5,"v":-7},{"h":65,"v":-8},{"h":65.5,"v":-12},{"h":66,"v":-5},{"h":66.5,"v":-8},{"h":67,"v":-9},{"h":67.5,"v":-13.5},{"h":68,"v":-6},{"h":68.5,"v":-4},{"h":69,"v":-4},{"h":69.5,"v":-8},{"h":70,"v":-9},{"h":70.5,"v":-4.5},{"h":71,"v":-5},{"h":71.5,"v":-9},{"h":72,"v":-13.7},{"h":72.5,"v":-5},{"h":73,"v":-6},{"h":73.5,"v":-9},{"h":74,"v":-4},{"h":74.5,"v":-7},{"h":75,"v":-10},{"h":75.5,"v":-5},{"h":76,"v":-5},{"h":76.5,"v":-15},{"h":77,"v":-8},{"h":77.5,"v":-5},
{"h":78,"v":-5},{"h":78.5,"v":-8},{"h":79,"v":-10},{"h":79.5,"v":-6},{"h":80,"v":-19},{"h":80.5,"v":-7},{"h":81,"v":-12},{"h":81.5,"v":-6},{"h":82,"v":-5},{"h":82.5,"v":-9},{"h":83,"v":-9},{"h":83.5,"v":-5},{"h":84,"v":-4},{"h":84.5,"v":-8},{"h":85,"v":-7},{"h":85.5,"v":-15.8},{"h":86,"v":-6},{"h":86.5,"v":-9},{"h":87,"v":-10},{"h":87.5,"v":-6},{"h":88,"v":-17},{"h":88.5,"v":-6},{"h":89,"v":-9},{"h":89.5,"v":-5},{"h":90,"v":-4},{"h":90.5,"v":-8},{"h":91,"v":-8},{"h":91.5,"v":-4.5},{"h":92,"v":-5},{"h":92.5,"v":-9},{"h":93,"v":-11},{"h":93.5,"v":-5},{"h":94,"v":-6},{"h":94.5,"v":-10},{"h":95,"v":-9},{"h":95.5,"v":-5},{"h":96,"v":-4},{"h":96.5,"v":-8},{"h":97,"v":-12},{"h":97.5,"v":-6},{"h":98,"v":-7},{"h":98.5,"v":-11},{"h":99,"v":-14},{"h":99.4,"v":-18.7},{"h":99.7,"v":-7},{"h":100,"v":-8},{"h":100.5,"v":-12},{"h":101,"v":-13},{"h":101.3,"v":-6},{"h":101.6,"v":-17.5},{"h":102,"v":-6},{"h":102.5,"v":-9},{"h":103,"v":-10},{"h":103.5,"v":-5},{"h":104,"v":-4.5},{"h":104.5,"v":-8},{"h":105,"v":-8},{"h":105.5,"v":-4.5},{"h":106,"v":-5},{"h":106.5,"v":-8.5},{"h":107,"v":-9},{"h":107.5,"v":-5},{"h":108,"v":-10},{"h":108.5,"v":-6},
{"h":109,"v":-5},{"h":109.5,"v":-3.5},{"h":110,"v":-4},{"h":110.5,"v":-6},{"h":111,"v":-5.5},{"h":111.5,"v":-3.5},{"h":112,"v":-3.5},{"h":112.5,"v":-5.5},{"h":113,"v":-5},{"h":113.5,"v":-3.5},{"h":114,"v":-4.5},{"h":114.5,"v":-6},{"h":115,"v":-6},{"h":115.5,"v":-4},{"h":116,"v":-4},{"h":116.5,"v":-5.5},{"h":117,"v":-5},{"h":117.5,"v":-3.5},{"h":118,"v":-3.5},{"h":118.5,"v":-5.5},{"h":119,"v":-5},{"h":119.5,"v":-3.5},{"h":120,"v":-4},{"h":120.5,"v":-6},{"h":121,"v":-5.5},{"h":121.5,"v":-3.5},{"h":122,"v":-4.5},{"h":122.5,"v":-6},{"h":123,"v":-5.5},{"h":123.5,"v":-3.5},{"h":124,"v":-3.5},{"h":124.5,"v":-5.5},{"h":125,"v":-5},{"h":125.5,"v":-3.5},{"h":126,"v":-4},{"h":126.5,"v":-5.5},{"h":127,"v":-4.5},{"h":127.5,"v":-3},{"h":128,"v":-3},{"h":128.5,"v":-5},{"h":129,"v":-5},{"h":129.5,"v":-3.5},{"h":130,"v":-4},{"h":130.5,"v":-6},{"h":131,"v":-6},{"h":131.5,"v":-3.5},{"h":132,"v":-3.5},{"h":132.5,"v":-5.5},{"h":133,"v":-5},{"h":133.5,"v":-3},{"h":134,"v":-3},{"h":134.5,"v":-5},{"h":135,"v":-4.5},{"h":135.5,"v":-6},{"h":136,"v":-5.5},{"h":136.5,"v":-3.5},
{"h":137,"v":-4},{"h":137.5,"v":-6.5},{"h":138,"v":-6},{"h":138.5,"v":-3},{"h":139,"v":-2.5},{"h":139.5,"v":-6},{"h":140,"v":-5},{"h":140.5,"v":-2.5},{"h":141,"v":-3},{"h":141.5,"v":-6.5},{"h":142,"v":-6.5},{"h":142.5,"v":-3},{"h":143,"v":-2},{"h":143.5,"v":-5.5},{"h":144,"v":-5},{"h":144.5,"v":-2.5},{"h":145,"v":-3.5},{"h":145.5,"v":-6.5},{"h":146,"v":-6},{"h":146.5,"v":-3},{"h":147,"v":-2.5},{"h":147.5,"v":-5.5},{"h":148,"v":-5},{"h":148.5,"v":-3},{"h":149,"v":-3},{"h":149.5,"v":-6.5},{"h":150,"v":-6},{"h":150.5,"v":-3.5},{"h":151,"v":-4},{"h":151.5,"v":-6.5},{"h":152,"v":-5.5},{"h":152.5,"v":-3.5},{"h":153,"v":-3},{"h":153.5,"v":-5},{"h":153.8,"v":1.9},{"h":154.3,"v":-4},{"h":154.7,"v":-6.5},
{"h":155,"v":-5},{"h":155.5,"v":-7},{"h":156,"v":-3.5},{"h":156.5,"v":-6},{"h":157,"v":-6},{"h":157.5,"v":-4},{"h":158,"v":-4.5},{"h":158.5,"v":-7},{"h":159,"v":-7},{"h":159.5,"v":-4.5},{"h":160,"v":-4},{"h":160.5,"v":-6.5},{"h":161,"v":-5.5},{"h":161.5,"v":-3.5},{"h":162,"v":-3.5},{"h":162.5,"v":-6},{"h":163,"v":-6.5},{"h":163.5,"v":-4.5},{"h":164,"v":-5},{"h":164.5,"v":-7.5},{"h":165,"v":-7.5},{"h":165.5,"v":-4.5},{"h":166,"v":-4.5},{"h":166.5,"v":-6.5},{"h":167,"v":-6},{"h":167.5,"v":-4},{"h":168,"v":-4},{"h":168.5,"v":-6.5},{"h":169,"v":-5.5},{"h":169.5,"v":-3.5},{"h":170,"v":-3.5},{"h":170.5,"v":-6},{"h":171,"v":-6},{"h":171.5,"v":-4},{"h":172,"v":-4.5},{"h":172.5,"v":-7},{"h":173,"v":-7},{"h":173.5,"v":-4.5},{"h":174,"v":-5},{"h":174.5,"v":-7},{"h":175,"v":-6},{"h":175.5,"v":-4},{"h":176,"v":-4},{"h":176.5,"v":-6.5},{"h":177,"v":-5.5},{"h":177.5,"v":-3.5},{"h":178,"v":-3.5},{"h":178.5,"v":-6},{"h":179,"v":-6},{"h":179.5,"v":-4},{"h":180,"v":-4.5},{"h":180.5,"v":-7},{"h":181,"v":-7},{"h":181.5,"v":-4.5},{"h":182,"v":-5},{"h":182.5,"v":-7},{"h":183,"v":-6},{"h":183.5,"v":-4},{"h":184,"v":-4},{"h":184.5,"v":-6},{"h":185,"v":-5},{"h":185.5,"v":-3.5},{"h":186,"v":-3.5},{"h":186.5,"v":-6},{"h":187,"v":-6.5},{"h":187.5,"v":-4.5},{"h":188,"v":-5},{"h":188.5,"v":-6.5},
{"h":189,"v":-5},{"h":189.5,"v":-6.5},{"h":190,"v":-6},{"h":190.5,"v":-4.5},{"h":191,"v":-4.5},{"h":191.5,"v":-6},{"h":192,"v":-5.5},{"h":192.5,"v":-4.5},{"h":193,"v":-6},{"h":193.5,"v":-4.5},{"h":194,"v":-5},{"h":194.5,"v":-6},{"h":195,"v":-5.5},{"h":195.5,"v":-4.5},{"h":196,"v":-4.5},{"h":196.5,"v":-6.5},{"h":197,"v":-6},{"h":197.5,"v":-4.5},{"h":198,"v":-5},{"h":198.5,"v":-7},{"h":199,"v":-7},{"h":199.5,"v":-5},{"h":200,"v":-5.5},{"h":200.5,"v":-7.5},{"h":201,"v":-8.5},{"h":201.5,"v":-5.5},{"h":202,"v":-6},{"h":202.5,"v":-8},{"h":203,"v":-7.5},{"h":203.5,"v":-5},
{"h":204,"v":-5},{"h":204.5,"v":-7.5},{"h":205,"v":-8},{"h":205.5,"v":-5},{"h":206,"v":-4.5},{"h":206.5,"v":-8},{"h":207,"v":-7},{"h":207.5,"v":-4.5},{"h":208,"v":-5.5},{"h":208.5,"v":-8},{"h":209,"v":-10.9},{"h":209.5,"v":-5},{"h":210,"v":-6},{"h":210.5,"v":-9},{"h":211,"v":-8},{"h":211.5,"v":-4.5},{"h":212,"v":-4},{"h":212.5,"v":-7.5},{"h":213,"v":-7},{"h":213.5,"v":-4},{"h":214,"v":-5},{"h":214.5,"v":-8},{"h":215,"v":-9},{"h":215.5,"v":-4.5},{"h":216,"v":-4.5},{"h":216.5,"v":-8.5},{"h":217,"v":-8},{"h":217.5,"v":-5},{"h":218,"v":-15.8},{"h":218.5,"v":-6},{"h":219,"v":-6},{"h":219.5,"v":-10},{"h":220,"v":-9},{"h":220.5,"v":-15.8},{"h":221,"v":-5},{"h":221.5,"v":-8},{"h":222,"v":-10},{"h":222.5,"v":-4.5},{"h":223,"v":-4},{"h":223.5,"v":-8},{"h":224,"v":-7},{"h":224.5,"v":-4},{"h":225,"v":-13.2},{"h":225.5,"v":-5},{"h":226,"v":-5},{"h":226.5,"v":-9},{"h":227,"v":-8.5},{"h":227.5,"v":-4.5},{"h":228,"v":-4},{"h":228.5,"v":-8},{"h":229,"v":-10},{"h":229.5,"v":-5},{"h":230,"v":-6},{"h":230.5,"v":-9},{"h":231,"v":-10.8},{"h":231.5,"v":-5},{"h":232,"v":-4.5},{"h":232.5,"v":-8},{"h":233,"v":-8},{"h":233.5,"v":-4.5},{"h":234,"v":-12.8},{"h":234.5,"v":-5},{"h":235,"v":-5},{"h":235.5,"v":-9},{"h":236,"v":-8},{"h":236.5,"v":-4.5},{"h":237,"v":-4},{"h":237.5,"v":-7.5},{"h":238,"v":-10.1},{"h":238.5,"v":-5},{"h":239,"v":-6},{"h":239.5,"v":-9},{"h":240,"v":-8},{"h":240.5,"v":-5},{"h":241,"v":-5},{"h":241.5,"v":-7.5},{"h":242,"v":-7},{"h":242.5,"v":-4.5},{"h":243,"v":-4},{"h":243.5,"v":-7},{"h":244,"v":-7.5},{"h":244.5,"v":-5},{"h":245,"v":-6},{"h":245.5,"v":-7.5},{"h":246,"v":-6.8},{"h":246.5,"v":-5},{"h":247,"v":-5.5},{"h":247.5,"v":-7},{"h":248,"v":-6.5},{"h":248.5,"v":-5},{"h":249,"v":-5},{"h":249.5,"v":-6.8},{"h":250,"v":-6.4},{"h":250.5,"v":-4.6},{"h":251,"v":-4.6},{"h":251.5,"v":-6.5},{"h":252,"v":-6},{"h":252.5,"v":-4.5},{"h":253,"v":-5},{"h":253.5,"v":-6.5},{"h":254,"v":-5.5},{"h":254.5,"v":-4},{"h":255,"v":-4},{"h":255.5,"v":-5.5},
{"h":256,"v":-3},{"h":256.5,"v":-5},{"h":256.8,"v":-1.2},{"h":257.2,"v":-4},{"h":257.5,"v":-6},{"h":258,"v":-3},{"h":258.5,"v":-7},{"h":259,"v":-5},{"h":259.5,"v":-8},{"h":260,"v":-2.5},{"h":260.5,"v":-6},{"h":261,"v":-8},{"h":261.5,"v":-4},{"h":262,"v":-4},{"h":262.5,"v":-9},{"h":263,"v":-10.6},{"h":263.5,"v":-5},{"h":264,"v":-5},{"h":264.5,"v":-10},{"h":265,"v":-13.8},{"h":265.5,"v":-6},{"h":266,"v":-6},{"h":266.5,"v":-11},{"h":267,"v":-9},{"h":267.5,"v":-4.5},{"h":268,"v":-4},{"h":268.5,"v":-9},{"h":269,"v":-12},{"h":269.5,"v":-7},{"h":270,"v":-19},{"h":270.5,"v":-6},{"h":271,"v":-10},{"h":271.5,"v":-15},{"h":272,"v":-5},{"h":272.5,"v":-9},{"h":273,"v":-14},{"h":273.5,"v":-19.6},{"h":273.8,"v":-28.6},{"h":274.3,"v":-8},{"h":274.7,"v":-13},{"h":275,"v":-12},{"h":275.5,"v":-6},{"h":276,"v":-5},{"h":276.5,"v":-10},{"h":277,"v":-18},{"h":277.5,"v":-7},{"h":278,"v":-11},{"h":278.4,"v":-6},{"h":278.8,"v":-21},{"h":279.3,"v":-6},{"h":279.7,"v":-12},{"h":280,"v":-10},{"h":280.5,"v":-5},{"h":281,"v":-9},{"h":281.3,"v":-20},{"h":281.8,"v":-5},{"h":282.2,"v":-9},{"h":282.5,"v":-13},{"h":283,"v":-6},{"h":283.5,"v":-10},{"h":284,"v":-21.7},{"h":284.5,"v":-8},{"h":285,"v":-4},{"h":285.5,"v":-7},{"h":286,"v":-9},{"h":286.5,"v":-4.5},{"h":287,"v":-3.5},{"h":287.5,"v":-6.5},{"h":288,"v":-7},{"h":288.5,"v":-4},{"h":289,"v":-4},{"h":289.5,"v":-6},
{"h":290,"v":-5},{"h":290.5,"v":-6.5},{"h":291,"v":-3.5},{"h":291.5,"v":-6},{"h":292,"v":-6},{"h":292.5,"v":-4},{"h":293,"v":-4},{"h":293.5,"v":-6.5},{"h":294,"v":-5.5},{"h":294.5,"v":-3.5},{"h":295,"v":-3.5},{"h":295.5,"v":-6.5},{"h":296,"v":-6},{"h":296.5,"v":-4},{"h":297,"v":-4.5},{"h":297.5,"v":-7},{"h":298,"v":-7},{"h":298.5,"v":-5},{"h":299,"v":-5},{"h":299.5,"v":-7.5},{"h":300,"v":-6.5},{"h":300.5,"v":-8.5},{"h":301,"v":-5},{"h":301.5,"v":-7},{"h":302,"v":-7},{"h":302.5,"v":-4.5},{"h":303,"v":-4.5},{"h":303.5,"v":-7},{"h":304,"v":-6.5},{"h":304.5,"v":-4.5},{"h":305,"v":-5},{"h":305.5,"v":-7.5},{"h":306,"v":-7.5},{"h":306.5,"v":-5},{"h":307,"v":-5},{"h":307.5,"v":-6.5},{"h":308,"v":-6},{"h":308.5,"v":-4},{"h":309,"v":-4},{"h":309.5,"v":-5.5},{"h":310,"v":-5},{"h":310.5,"v":-3.5},{"h":311,"v":-3.5},{"h":311.5,"v":-5},{"h":312,"v":-4.5},{"h":312.5,"v":-3},{"h":313,"v":-3},{"h":313.5,"v":-4.5},{"h":314,"v":-4},{"h":314.5,"v":-2.7},{"h":315,"v":-2.7},{"h":315.5,"v":-4},{"h":316,"v":-3.5},{"h":316.5,"v":-5},{"h":317,"v":-3},{"h":317.5,"v":-5.5},{"h":318,"v":-4.5},{"h":318.5,"v":-7},{"h":319,"v":-3.5},{"h":319.5,"v":-6},{"h":320,"v":-6},{"h":320.3,"v":-8},{"h":320.7,"v":-9.6}
]},
"mark":{"type":"line","strokeWidth":3},
"encoding":{"color":{"datum":"Toimisto","type":"nominal"}}}
]
}
